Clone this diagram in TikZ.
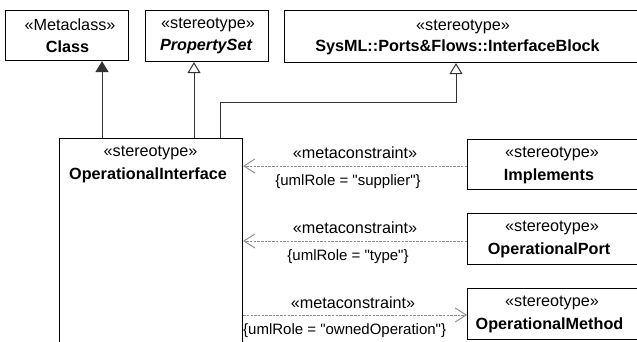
\documentclass[tikz,border=0pt]{standalone}
\usepackage{fontspec}
\setmainfont{Liberation Sans}
\usetikzlibrary{arrows.meta}
\definecolor{lncol}{HTML}{333333}
\definecolor{dshcol}{HTML}{8A8A8A}
\newcommand{\qq}{\textquotedbl}
\tikzset{
  box/.style={draw=black, line width=1.1pt, fill=white, inner sep=0pt, anchor=north west},
  txt/.style={inner sep=0pt, font=\fontsize{16.2}{19}\selectfont},
  ctxt/.style={inner sep=0pt, font=\fontsize{15}{18}\selectfont},
  genfill/.style={draw=lncol, line width=1pt, -{Triangle[length=11pt,width=13pt,fill=lncol]}},
  genopen/.style={draw=lncol, line width=1pt, -{Triangle[open,length=11pt,width=13pt,fill=white]}},
  meta/.style={draw=dshcol, line width=0.9pt, dash pattern=on 2.5pt off 1.2pt, -{Straight Barb[length=11pt,width=14pt]}},
}
\begin{document}
\begin{tikzpicture}[x=1pt,y=-1pt]
\useasboundingbox (0,0) rectangle (637,341);
\clip (0,0) rectangle (637,341);
% boxes
\node[box, minimum width=123pt, minimum height=50pt] (cls) at (5,10) {};
\node[box, minimum width=123pt, minimum height=51pt] (ps) at (145,10) {};
\node[box, minimum width=370pt, minimum height=52pt] (ib) at (284,10) {};
\node[box, minimum width=183pt, minimum height=240pt] (oi) at (59,138) {};
\node[box, minimum width=190pt, minimum height=50pt] (impl) at (467,139) {};
\node[box, minimum width=190pt, minimum height=51pt] (port) at (467,213) {};
\node[box, minimum width=190pt, minimum height=51pt] (meth) at (467,288) {};
% texts
\node[txt] (t1) at (70,25) {«Metaclass»};
\node[txt] (t2) at (67.5,47) {\bfseries Class};
\node[txt] (t3) at (208,25) {«stereotype»};
\node[txt] (t4) at (206,47) {\bfseries\itshape PropertySet};
\node[txt] (t5) at (463,27) {«stereotype»};
\node[txt] (t6) at (457.5,47) {\bfseries SysML::Ports\&Flows::InterfaceBlock};
\node[txt] (t7) at (150.5,153) {«stereotype»};
\node[txt] (t8) at (148,175) {\bfseries OperationalInterface};
\node[txt] (t9) at (552,154) {«stereotype»};
\node[txt] (t10) at (549,176) {\bfseries Implements};
\node[txt] (t11) at (552,228) {«stereotype»};
\node[txt] (t12) at (549,250) {\bfseries OperationalPort};
\node[txt] (t13) at (552,303) {«stereotype»};
\node[txt] (t14) at (549.5,325) {\bfseries OperationalMethod};
% generalizations
\coordinate (g1) at (102,0);
\coordinate (g2) at (194,0);
\coordinate (g3) at (220,102);
\coordinate (g4) at (456,102);
\draw[genfill] (oi.north -| g1) -- (cls.south -| g1);
\draw[genopen] (oi.north -| g2) -- (ps.south -| g2);
\draw[genopen] (oi.north -| g3) -- (g3) -- (g4) -- (ib.south -| g4);
% metaconstraints
\coordinate (m1) at (0,166);
\coordinate (m2) at (0,241);
\coordinate (m3) at (0,315);
\draw[meta] (impl.west |- m1) -- (oi.east |- m1);
\draw[meta] (port.west |- m2) -- (oi.east |- m2);
\draw[meta] (oi.east |- m3) -- (meth.west |- m3);
\node[txt] (l1) at (355,153) {«metaconstraint»};
\node[ctxt] (l2) at (348,182) {\{umlRole = \qq supplier\qq\}};
\node[txt] (l3) at (355,228) {«metaconstraint»};
\node[ctxt] (l4) at (348,257) {\{umlRole = \qq type\qq\}};
\node[txt] (l5) at (353,303) {«metaconstraint»};
\node[ctxt, anchor=west] (l6) at (243,331) {\{umlRole = \qq ownedOperation\qq\}};
\end{tikzpicture}
\end{document}
